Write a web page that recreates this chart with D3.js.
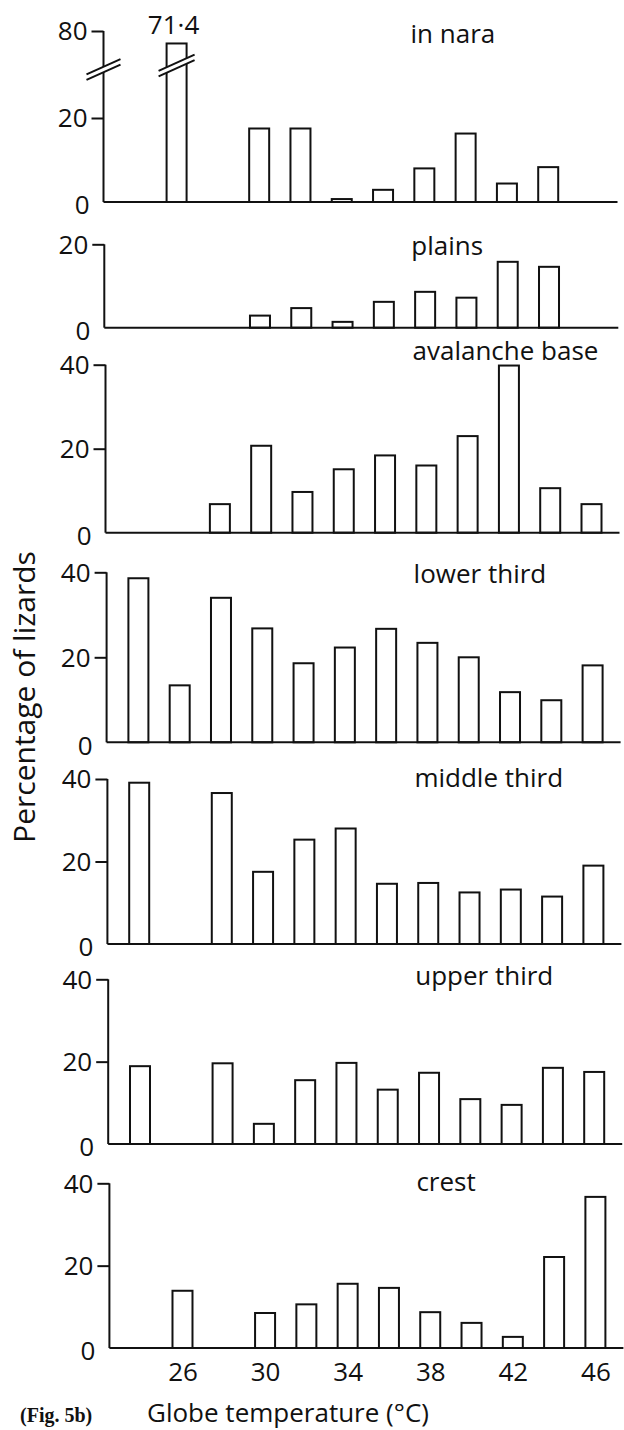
<!DOCTYPE html>
<html>
<head>
<meta charset="utf-8">
<script src="https://cdn.jsdelivr.net/npm/d3@7"></script>
<style>
  html, body { margin: 0; padding: 0; background: #fff; }
  svg text { font-family: "Open Sans", sans-serif; fill: #111; }
</style>
</head>
<body>
<svg id="chart" width="624" height="1430"></svg>
<script>
(function() {
  // globe temperature classes (°C)
  var temps = [24, 26, 28, 30, 32, 34, 36, 38, 40, 42, 44, 46];
  var xLabels = [26, 30, 34, 38, 42, 46];

  var panelNames = ['in nara', 'plains', 'avalanche base', 'lower third',
                    'middle third', 'upper third', 'crest'];

  // percentage of lizards per temperature class
  var inNara        = [0, 71.4, 0, 17.5, 17.5, 0.7, 2.9, 8.0, 16.3, 4.4, 8.3, 0];
  var plains        = [0, 0, 0, 2.9, 4.7, 1.4, 6.2, 8.6, 7.2, 15.8, 14.6, 0];
  var avalancheBase = [0, 0, 6.8, 20.7, 9.7, 15.1, 18.4, 16.0, 23.0, 39.8, 10.6, 6.8];
  var lowerThird    = [38.6, 13.4, 34.0, 26.8, 18.6, 22.3, 26.7, 23.4, 20.0, 11.8, 9.9, 18.1];
  var middleThird   = [39.1, 0, 36.6, 17.5, 25.3, 28.0, 14.6, 14.8, 12.5, 13.2, 11.5, 19.0];
  var upperThird    = [18.9, 0, 19.6, 4.9, 15.5, 19.7, 13.2, 17.3, 10.9, 9.5, 18.5, 17.5];
  var crest         = [0, 13.9, 0, 8.5, 10.6, 15.6, 14.6, 8.7, 6.1, 2.7, 22.1, 36.7];

  var series = [inNara, plains, avalancheBase, lowerThird, middleThird, upperThird, crest];

  var yTicks = [[0, 20, 80], [0, 20], [0, 20, 40], [0, 20, 40], [0, 20, 40], [0, 20, 40], [0, 20, 40]];

  // page layout of each panel (axis x, zero line, top of axis, label baseline)
  var layout = [
    { ax: 103.5, base: 202,   top: 31,     mid: 118, label: 43 },
    { ax: 104.3, base: 327.7, top: 244.3,  label: 255 },
    { ax: 105.5, base: 532.7, top: 364.7,  label: 360 },
    { ax: 106.6, base: 742.3, top: 572.3,  label: 583 },
    { ax: 107.4, base: 944,   top: 779,    label: 787 },
    { ax: 108.2, base: 1144,  top: 979.3,  label: 985 },
    { ax: 109.4, base: 1348,  top: 1183.3, label: 1191 }
  ];

  const INK = '#111';
  const BAR_W = 20;
  const FONT = 26;

  var svg = d3.select('#chart');

  function breakMark(g, cx, cy, half) {
    var lines = [-2.8, 2.8];
    g.append('path')
      .attr('d', 'M' + (cx - half) + ',' + (cy + half * 0.45 - 2.8) +
                 'L' + (cx + half) + ',' + (cy - half * 0.45 - 2.8) +
                 'L' + (cx + half) + ',' + (cy - half * 0.45 + 2.8) +
                 'L' + (cx - half) + ',' + (cy + half * 0.45 + 2.8) + 'Z')
      .attr('fill', '#fff');
    lines.forEach(function(o) {
      g.append('line')
        .attr('x1', cx - half).attr('y1', cy + half * 0.45 + o)
        .attr('x2', cx + half).attr('y2', cy - half * 0.45 + o)
        .attr('stroke', INK).attr('stroke-width', 2);
    });
  }

  series.forEach(function(values, i) {
    var L = layout[i];
    var ticks = yTicks[i];
    var g = svg.append('g');

    var x = d3.scalePoint()
      .domain(temps)
      .range([L.ax + 31.8, L.ax + 486]);

    var y;
    if (i == 0) {
      y = d3.scaleLinear().domain([0, 20, 80]).range([L.base, L.mid, L.top]);
    }
    else {
      y = d3.scaleLinear().domain([0, ticks[ticks.length - 1]]).range([L.base, L.top]);
    }

    // bars
    g.selectAll('rect')
      .data(temps.map(function(t, j) { return { t: t, v: values[j] }; })
                 .filter(function(d) { return d.v > 0; }))
      .enter().append('rect')
      .attr('x', function(d) { return x(d.t) - BAR_W / 2; })
      .attr('y', function(d) { return y(d.v); })
      .attr('width', BAR_W)
      .attr('height', function(d) { return L.base - y(d.v); })
      .attr('fill', '#fff')
      .attr('stroke', INK)
      .attr('stroke-width', 2);

    // vertical axis line
    g.append('line')
      .attr('x1', L.ax).attr('x2', L.ax)
      .attr('y1', L.base).attr('y2', y(ticks[ticks.length - 1]))
      .attr('stroke', INK).attr('stroke-width', 2);

    // zero line
    g.append('line')
      .attr('x1', L.ax).attr('x2', L.ax + 514)
      .attr('y1', L.base).attr('y2', L.base)
      .attr('stroke', INK).attr('stroke-width', 2);

    var yAxis = g.append('g')
      .attr('transform', 'translate(' + L.ax + ',0)')
      .call(d3.axisLeft(y).tickValues(ticks).tickSize(12).tickPadding(3).tickFormat(d3.format('d')));
    yAxis.select('.domain').remove();
    yAxis.selectAll('.tick line').attr('stroke', INK).attr('stroke-width', 2)
      .attr('display', function(d) { return d == 0 ? 'none' : null; });
    yAxis.selectAll('.tick text')
      .attr('font-size', FONT)
      .attr('font-family', null)
      .attr('fill', INK)
      .attr('dy', function(d) { return d == 0 ? '0.45em' : '0.34em'; })
      .attr('x', function(d) { return d == 0 ? -14 : -16; });

    // panel name
    g.append('text')
      .attr('x', L.ax + 307)
      .attr('y', L.label)
      .attr('font-size', FONT)
      .text(panelNames[i]);

    if (i == 0) {
      breakMark(g, L.ax, 69.5, 17);
      var big = values[1];
      breakMark(g, x(temps[1]), 65.5, 18);
      g.append('text')
        .attr('x', x(temps[1]) - 3)
        .attr('y', y(big) - 9)
        .attr('text-anchor', 'middle')
        .attr('font-size', FONT)
        .text('71·4');
    }

    if (i == series.length - 1) {
      var xAxis = g.append('g')
        .attr('transform', 'translate(0,' + L.base + ')')
        .call(d3.axisBottom(x).tickValues(xLabels).tickSize(0).tickPadding(15));
      xAxis.select('.domain').remove();
      xAxis.selectAll('.tick text')
        .attr('font-size', FONT)
        .attr('font-family', null)
        .attr('fill', INK);
    }
  });

  svg.append('text')
    .attr('transform', 'translate(35,697) rotate(-90)')
    .attr('text-anchor', 'middle')
    .attr('font-size', 30)
    .text('Percentage of lizards');

  svg.append('text')
    .attr('x', 147)
    .attr('y', 1422)
    .attr('font-size', FONT)
    .text('Globe temperature (°C)');

  svg.append('text')
    .attr('x', 20)
    .attr('y', 1422)
    .attr('font-size', 20)
    .attr('font-weight', 'bold')
    .style('font-family', '"Liberation Serif", serif')
    .text('(Fig. 5b)');
})();
</script>
</body>
</html>
